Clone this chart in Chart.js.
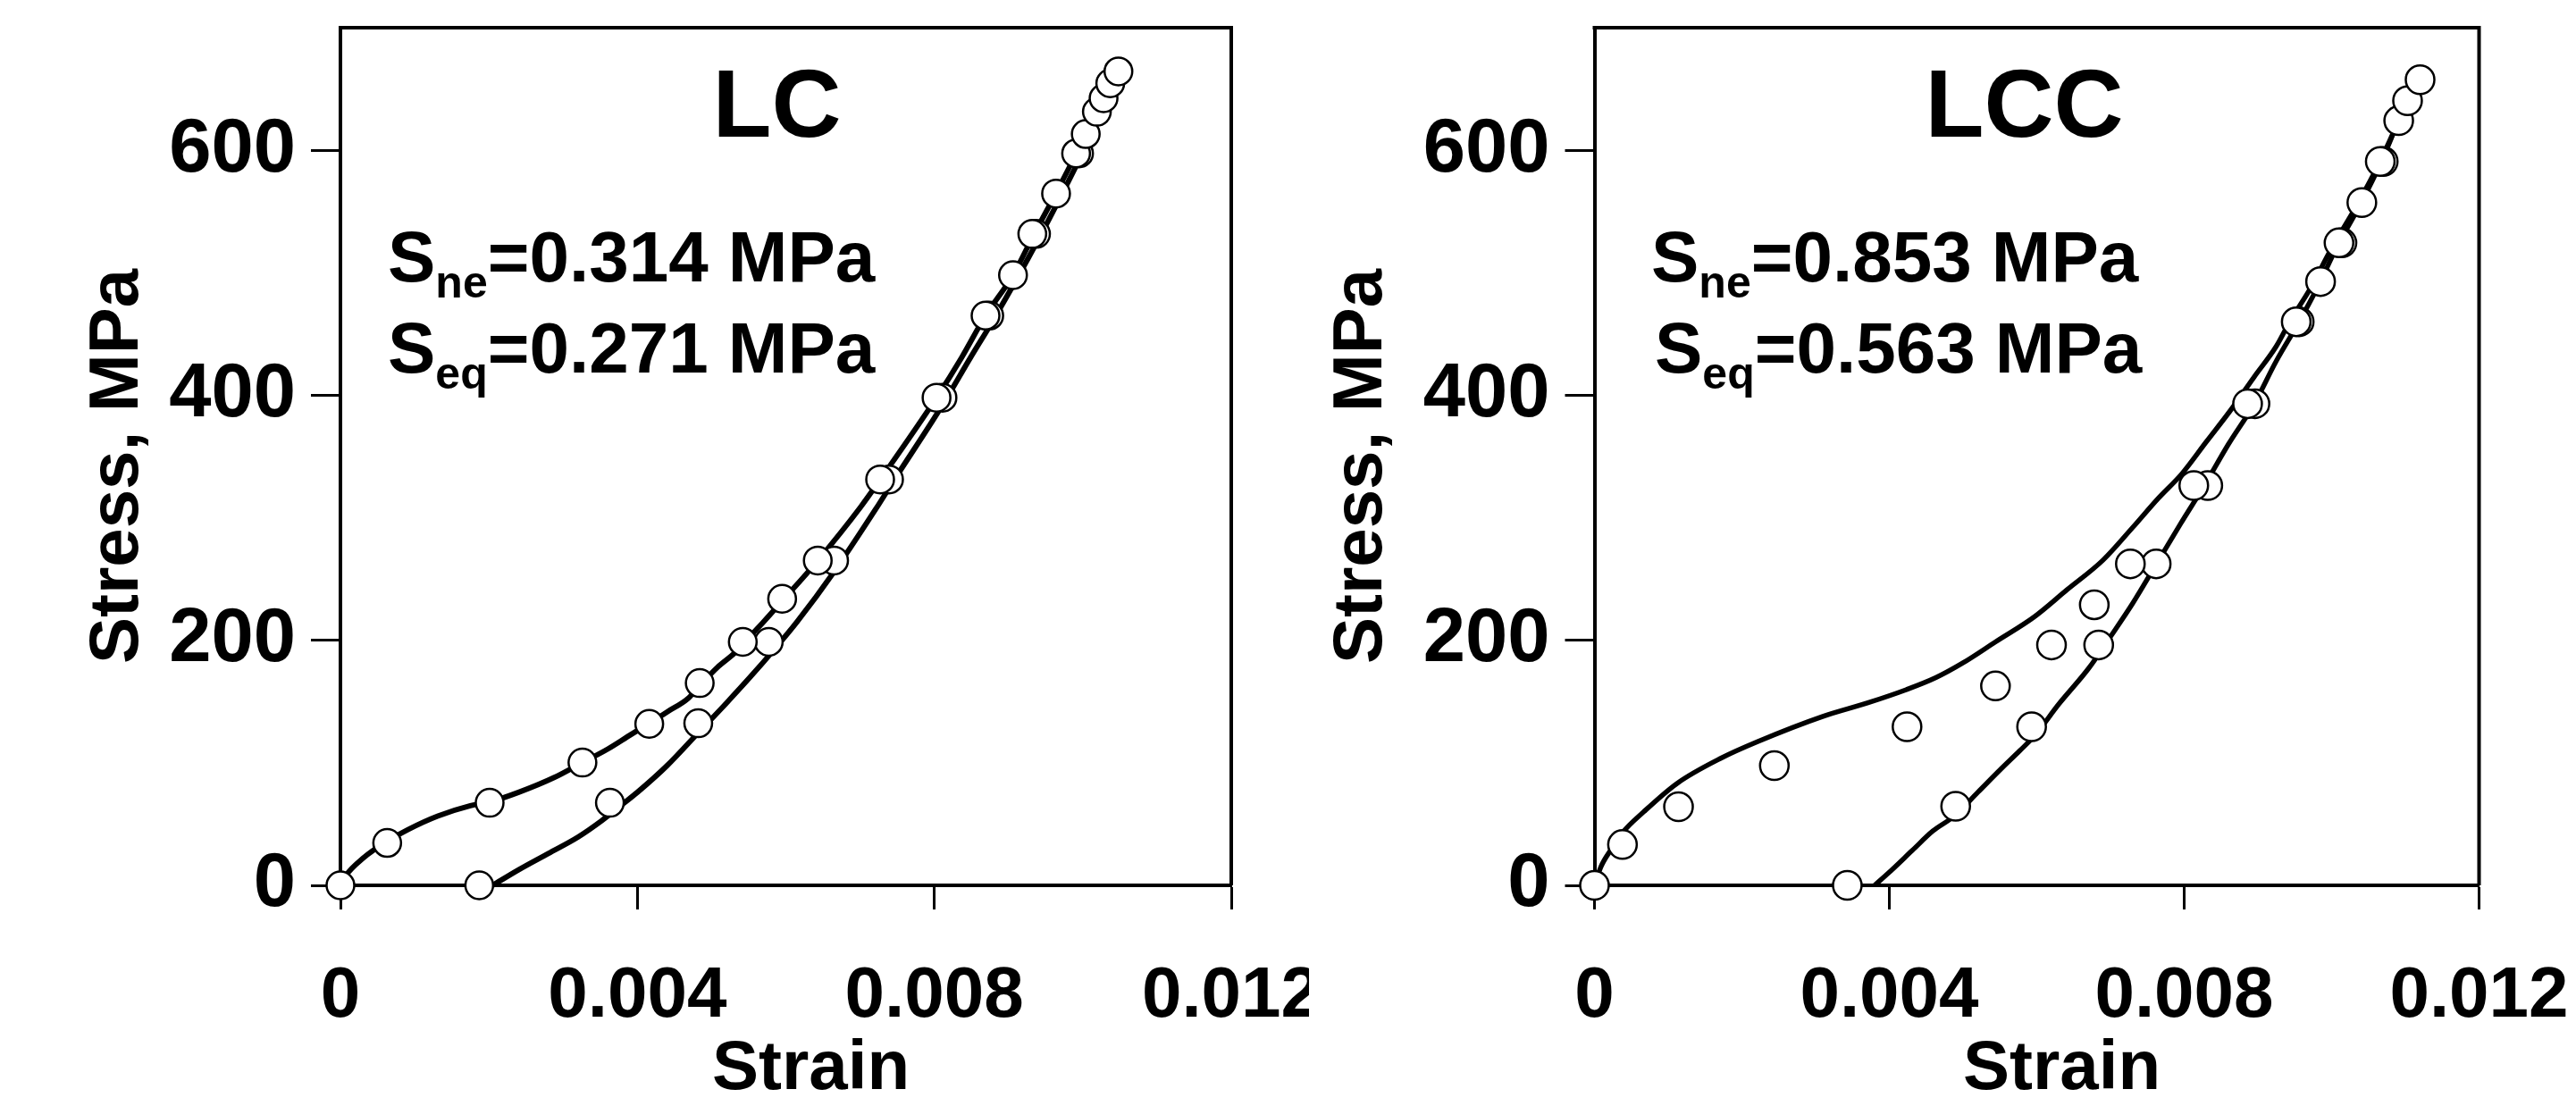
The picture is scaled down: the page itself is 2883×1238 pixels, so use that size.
<!DOCTYPE html>
<html>
<head>
<meta charset="utf-8">
<title>LC / LCC stress-strain</title>
<script src="https://cdn.jsdelivr.net/npm/chart.js@4.4.1/dist/chart.umd.min.js"></script>
<style>
  html, body { margin: 0; padding: 0; background: #fff; }
  body { width: 2883px; height: 1238px; position: relative; overflow: hidden; }
  .panel { position: absolute; top: 0; height: 1238px; overflow: hidden; }
  #wrapLC { left: 0; width: 1465px; }
  #wrapLCC { left: 1465px; width: 1418px; }
</style>
</head>
<body>
<div class="panel" id="wrapLC"><canvas id="chartLC" width="1490" height="1238"></canvas></div>
<div class="panel" id="wrapLCC"><canvas id="chartLCC" width="1418" height="1238"></canvas></div>
<script>
/* ---- axes ---- */
const strainTicks = [0, 0.004, 0.008, 0.012];
const stressTicks = [0, 200, 400, 600];

/* ---- LC : experiment (loading / unloading) ---- */
const lcLoadStrain = [0, 0.00007, 0.00031, 0.00063, 0.00091, 0.00131, 0.00175, 0.00201, 0.0024, 0.00288,
  0.00326, 0.0036, 0.00392, 0.00416, 0.0044, 0.00468, 0.00484, 0.00508, 0.00532, 0.00542, 0.00569,
  0.00595, 0.00643, 0.00701, 0.00727, 0.00803, 0.00837, 0.00869, 0.00906, 0.00934, 0.00964, 0.00991,
  0.01019, 0.01048];
const lcLoadStress = [0, 7.8, 22.4, 36, 45.5, 56.5, 65, 68, 75.9, 88,
  100.2, 111.2, 123.3, 132, 141.5, 152.4, 163, 178, 190.2, 197, 214.4,
  232, 265, 309, 331, 398, 431, 465, 498, 531, 565, 597,
  631, 664];
const lcUnloadStrain = [0.00205, 0.0024, 0.0028, 0.0032, 0.00352, 0.0038, 0.004, 0.0044, 0.00482,
  0.0052, 0.00552, 0.00585, 0.00615, 0.00665, 0.00721, 0.00745, 0.00811, 0.00849, 0.0088, 0.0094,
  0.00995, 0.01022, 0.0105];
const lcUnloadStress = [0, 12.7, 26, 39.4, 52.8, 66.2, 75.9, 97.7, 124.5,
  148.8, 170, 193, 215, 256, 307, 330, 392, 431, 462, 527,
  592, 626, 664];

/* ---- LC : model (circles) ---- */
const lcModelLoadStrain = [0, 0.00063, 0.00201, 0.00326, 0.00416, 0.00484, 0.00542, 0.00595, 0.00643,
  0.00727, 0.00803, 0.00869, 0.00906, 0.00932, 0.00964, 0.00991, 0.01004, 0.01019, 0.01028, 0.01037, 0.01048];
const lcModelLoadStress = [0, 34.6, 67.4, 100.2, 131.8, 165.1, 198.7, 233.9, 265.1,
  331.3, 398, 465, 498, 531.7, 564.6, 597.4, 613.2, 631.4, 642.4, 654.6, 664.3];
const lcModelUnloadStrain = [0.00995, 0.00937, 0.00874, 0.00811, 0.00739, 0.00665, 0.00577, 0.00482, 0.00363, 0.00187];
const lcModelUnloadStress = [597.4, 531.7, 465, 398, 331.3, 265.1, 198.7, 132.3, 67.4, 0];

/* ---- LCC : experiment ---- */
const lccLoadStrain = [0, 0.000087, 0.00023, 0.00038, 0.00067, 0.00112, 0.00172, 0.00221, 0.0031, 0.0037,
  0.00423, 0.00463, 0.005, 0.00544, 0.00597, 0.00641, 0.0069, 0.0073, 0.00765, 0.00797, 0.0083,
  0.00862, 0.00895, 0.00925, 0.00945, 0.00969, 0.01, 0.01035, 0.01065, 0.01088];
const lccLoadStress = [0, 15.1, 29.7, 43, 60.1, 83.2, 103.9, 117.2, 137.9, 148.8,
  159.7, 169.5, 181.6, 198.7, 219.3, 241.2, 265.5, 292, 316, 336, 362,
  387, 415, 440, 462, 485, 520, 556, 590, 620];
const lccUnloadStrain = [0.0038, 0.00399, 0.00431, 0.00459, 0.00488, 0.0052, 0.00552, 0.00577, 0.00597,
  0.0063, 0.0067, 0.00702, 0.0073, 0.00762, 0.00795, 0.00827, 0.0086, 0.00895, 0.00925, 0.00956,
  0.0098, 0.01008, 0.0104, 0.01067, 0.01088];
const lccUnloadStress = [0, 10.2, 28.4, 44.3, 56.5, 75.9, 95.3, 109.9, 122.1,
  148, 176.8, 204.7, 230, 262, 295, 326, 360, 393, 428, 460,
  487, 522, 557, 590, 620];

/* ---- LCC : model ---- */
const lccModelLoadStrain = [0, 0.00038, 0.00114, 0.00244, 0.00424, 0.00544, 0.0062, 0.00678, 0.00727,
  0.00813, 0.00886, 0.00952, 0.00985, 0.0101, 0.01041, 0.01066, 0.01091, 0.01103, 0.0112];
const lccModelLoadStress = [0, 33.3, 64.2, 97.7, 129.4, 162.7, 196.2, 229, 262.4,
  326.3, 393.1, 460, 492.8, 524.4, 557.3, 590.8, 624.1, 640.4, 657.5];
const lccModelUnloadStrain = [0.0107, 0.01014, 0.00956, 0.00896, 0.00832, 0.00762, 0.00684, 0.00593, 0.0049, 0.00343];
const lccModelUnloadStress = [590.8, 524.4, 460, 393.1, 326.3, 262.4, 196.2, 129.4, 64.5, 0];

const FONT = '"Liberation Sans", Arial, sans-serif';

function zip(xs, ys) {
  return xs.map((x, i) => ({ x, y: ys[i] }));
}

// frame (top/right), panel label, S values and axis titles
const panelText = {
  id: 'panelText',
  afterDraw(chart, args, o) {
    const { ctx, chartArea: a } = chart;
    ctx.save();
    ctx.strokeStyle = '#000';
    ctx.fillStyle = '#000';
    ctx.lineWidth = 4;
    ctx.beginPath();
    ctx.moveTo(a.left - 2, a.top);
    ctx.lineTo(a.right, a.top);
    ctx.lineTo(a.right, a.bottom);
    ctx.stroke();

    ctx.textBaseline = 'alphabetic';
    ctx.textAlign = 'center';
    ctx.font = `bold 108px ${FONT}`;
    ctx.fillText(o.label, (a.left + a.right) / 2 + o.labelShift, 153);

    ctx.font = `bold 78px ${FONT}`;
    ctx.fillText('Strain', (a.left + a.right) / 2 + 28, 1219);

    // y title, rotated
    ctx.save();
    ctx.translate(o.yTitleX, (a.top + a.bottom) / 2 + 11);
    ctx.rotate(-Math.PI / 2);
    ctx.textBaseline = 'middle';
    ctx.fillText('Stress, MPa', 0, 0);
    ctx.restore();

    ctx.textAlign = 'left';
    const drawS = (sub, rest, x, y) => {
      ctx.font = `bold 80px ${FONT}`;
      ctx.fillText('S', x, y);
      x += ctx.measureText('S').width;
      ctx.font = `bold 50px ${FONT}`;
      ctx.fillText(sub, x, y + 18);
      x += ctx.measureText(sub).width;
      ctx.font = `bold 80px ${FONT}`;
      ctx.fillText(rest, x, y);
    };
    drawS('ne', '=' + o.sne + ' MPa', a.left + o.neX, 315);
    drawS('eq', '=' + o.seq + ' MPa', a.left + o.eqX, 417);
    ctx.restore();
  }
};

function makeChart(id, p) {
  const circle = {
    type: 'scatter',
    showLine: false,
    pointRadius: p.r,
    pointBorderWidth: 2.5,
    pointBackgroundColor: '#fff',
    pointBorderColor: '#000',
    clip: false,
    order: 0
  };
  const curve = {
    type: 'scatter',
    showLine: true,
    pointRadius: 0,
    borderColor: '#000',
    borderWidth: p.lw,
    cubicInterpolationMode: 'monotone',
    fill: false,
    clip: false,
    order: 1
  };
  return new Chart(document.getElementById(id), {
    type: 'scatter',
    data: {
      datasets: [
        { ...circle, data: zip(p.mls, p.mlf) },
        { ...circle, data: zip(p.mus, p.muf) },
        { ...curve, data: zip(p.ls, p.lf) },
        { ...curve, data: zip(p.us, p.uf) }
      ]
    },
    options: {
      responsive: false,
      animation: false,
      devicePixelRatio: 1,
      layout: { padding: { left: 0, top: 31, right: p.padRight, bottom: 0 } },
      plugins: {
        legend: { display: false },
        tooltip: { enabled: false },
        panelText: p.text
      },
      scales: {
        x: {
          type: 'linear',
          min: 0,
          max: 0.012,
          afterBuildTicks: (s) => { s.ticks = strainTicks.map((v) => ({ value: v })); },
          afterFit: (s) => { s.height = 1238 - 991; s.paddingLeft = 0; s.paddingRight = 0; },
          ticks: {
            color: '#000',
            padding: 50,
            maxRotation: 0,
            font: { family: FONT, size: 80, weight: 'bold' },
            callback: (v) => (v === 0 ? '0' : v.toFixed(3))
          },
          grid: { display: true, drawOnChartArea: false, drawTicks: true, tickLength: 27, tickWidth: 3, tickColor: '#000' },
          border: { display: true, width: 4, color: '#000' },
          title: { display: false }
        },
        y: {
          type: 'linear',
          min: 0,
          max: 700,
          afterBuildTicks: (s) => { s.ticks = stressTicks.map((v) => ({ value: v })); },
          afterFit: (s) => { s.width = p.yWidth; s.paddingTop = 0; s.paddingBottom = 0; },
          ticks: {
            color: '#000',
            padding: 17,
            font: { family: FONT, size: 85, weight: 'bold' }
          },
          grid: { display: true, drawOnChartArea: false, drawTicks: true, tickLength: 33, tickWidth: 3, tickColor: '#000' },
          border: { display: true, width: 4, color: '#000' },
          title: { display: false }
        }
      }
    },
    plugins: [panelText]
  });
}

makeChart('chartLC', {
  ls: lcLoadStrain, lf: lcLoadStress, us: lcUnloadStrain, uf: lcUnloadStress,
  mls: lcModelLoadStrain, mlf: lcModelLoadStress, mus: lcModelUnloadStrain, muf: lcModelUnloadStress,
  r: 15.5, lw: 6, yWidth: 381, padRight: 1490 - 1378,
  text: { label: 'LC', labelShift: -10, sne: '0.314', seq: '0.271', neX: 53, eqX: 53, yTitleX: 132 }
});

makeChart('chartLCC', {
  ls: lccLoadStrain, lf: lccLoadStress, us: lccUnloadStrain, uf: lccUnloadStress,
  mls: lccModelLoadStrain, mlf: lccModelLoadStress, mus: lccModelUnloadStrain, muf: lccModelUnloadStress,
  r: 16, lw: 5.5, yWidth: 319.5, padRight: 1418 - 1309.5,
  text: { label: 'LCC', labelShift: -14, sne: '0.853', seq: '0.563', neX: 63.5, eqX: 67.5, yTitleX: 59 }
});
</script>
</body>
</html>
